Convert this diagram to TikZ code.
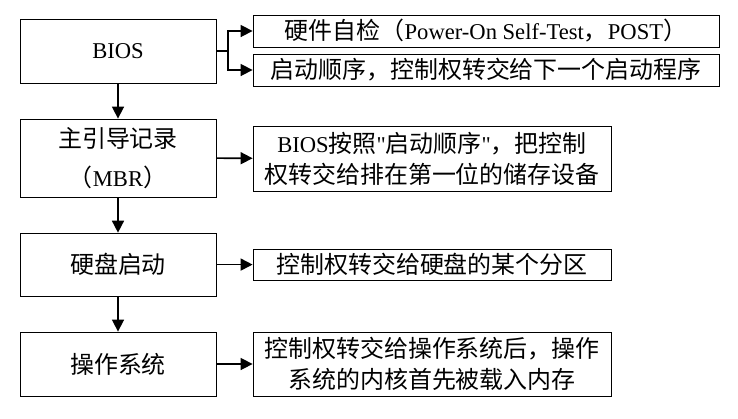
\documentclass[tikz,border=0pt]{standalone}
\usepackage{fontspec}
\setmainfont{Liberation Serif}[Ligatures=TeXOff]
\newfontfamily\cjk{Noto Sans CJK SC}[Scale=1.06]
\usepackage{tikz}
\usetikzlibrary{arrows.meta, positioning}

\begin{document}
\begin{tikzpicture}[font=\fontsize{22.5}{31}\selectfont,
  stage/.style={draw, line width=0.8pt, minimum width=6.86cm, inner sep=0pt, align=center},
  note/.style={draw, line width=0.8pt, inner sep=0pt, align=center},
  arr/.style={line width=1.6pt, -{Triangle[length=12pt, width=12pt]}}]
  \useasboundingbox (0,0) rectangle (25.83,-14.63);
  % Stages
  \node[stage, minimum height=2.24cm] (bios) at (4.13,-1.785) {BIOS};
  \node[stage, minimum height=2.73cm, font=\fontsize{22.5}{39}\selectfont] (mbr) at (4.13,-5.53) {{\cjk 主引导记录}\\{\cjk （}MBR{\cjk ）}};
  \node[stage, minimum height=2.205cm] (disk) at (4.13,-9.26) {\cjk 硬盘启动};
  \node[stage, minimum height=2.24cm] (os) at (4.13,-12.74) {\cjk 操作系统};
  % Notes
  \node[note, minimum width=16.31cm, minimum height=1.12cm] (post) at (17.01,-1.085) {{\cjk 硬件自检（}Power-On Self-Test{\cjk ，}POST{\cjk ）}};
  \node[note, minimum width=16.31cm, minimum height=1.12cm] (order) at (17.01,-2.45) {\cjk 启动顺序，控制权转交给下一个启动程序};
  \node[note, minimum width=12.53cm, minimum height=2.275cm] (mbrnote) at (15.12,-5.55) {BIOS{\cjk 按照}"{\cjk 启动顺序}"{\cjk ，把控制}\\{\cjk 权转交给排在第一位的储存设备}};
  \node[note, minimum width=12.53cm, minimum height=1.085cm] (disknote) at (15.12,-9.26) {\cjk 控制权转交给硬盘的某个分区};
  \node[note, minimum width=12.53cm, minimum height=2.24cm] (osnote) at (15.12,-12.74) {{\cjk 控制权转交给操作系统后，操作}\\{\cjk 系统的内核首先被载入内存}};
  % Connectors
  \coordinate (split) at (7.98,-1.785);
  \draw[line width=1.6pt] (bios.east) -- (split);
  \draw[arr] (split) |- (post.west);
  \draw[arr] (split) |- (order.west);
  \draw[arr] (bios) -- (mbr);
  \draw[arr] (mbr) -- (disk);
  \draw[arr] (disk) -- (os);
  \draw[arr] (mbr) -- (mbrnote);
  \draw[arr] (disk) -- (disknote);
  \draw[arr] (os) -- (osnote);
\end{tikzpicture}
\end{document}
